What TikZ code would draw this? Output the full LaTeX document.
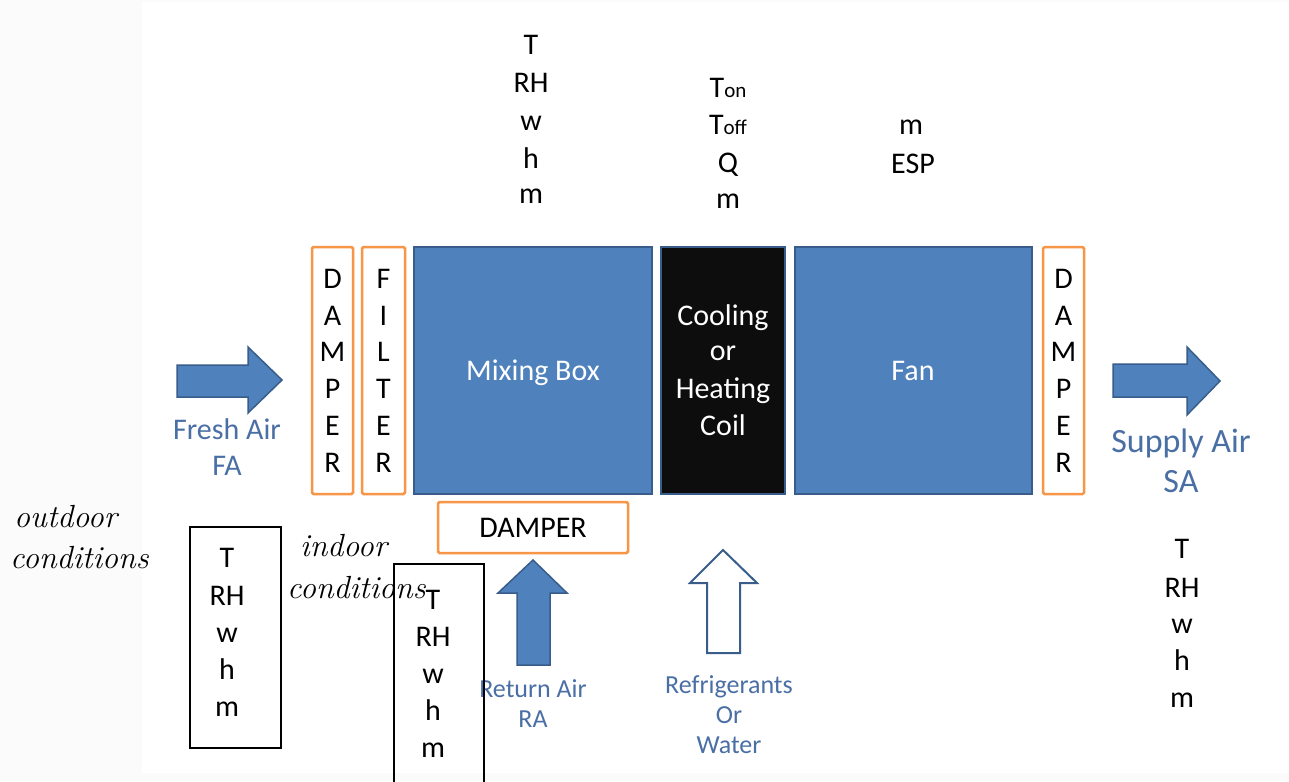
\documentclass[tikz,border=0pt]{standalone}
\usepackage{fontspec}
\setmainfont{Carlito}
\newfontfamily\handfont{Latin Modern Roman}
\definecolor{boxblue}{HTML}{4F81BD}
\definecolor{edgeblue}{HTML}{385D8A}
\definecolor{dorange}{HTML}{F79646}
\definecolor{lblue}{HTML}{4A6FA5}
\definecolor{coilblack}{HTML}{0D0D0D}
\definecolor{pagegray}{HTML}{FBFBFB}
\begin{document}
\begin{tikzpicture}[x=1pt,y=-1pt,
  font=\fontsize{30}{36}\selectfont,
  orangebox/.style={draw=dorange, line width=2.5pt, rounded corners=1.5pt},
  bluebox/.style={fill=boxblue, draw=edgeblue, line width=2pt},
  coilbox/.style={fill=coilblack, draw=edgeblue, line width=2.5pt},
  blackbox/.style={draw=black, line width=2pt},
  txt/.style={inner sep=0pt, anchor=base},
  lbl/.style={inner sep=0pt, anchor=base, text=lblue},
  smalllbl/.style={lbl, font=\fontsize{26}{30}\selectfont},
  biglbl/.style={lbl, font=\fontsize{34}{40}\selectfont},
  wtxt/.style={inner sep=0pt, anchor=base, text=white},
  hand/.style={inner sep=0pt, anchor=base west, font=\handfont\itshape\fontsize{32}{36}\selectfont},
  fillarrow/.style={fill=boxblue, draw=edgeblue, line width=1.5pt, line join=miter},
  openarrow/.style={fill=white, draw=edgeblue, line width=2pt, line join=miter}
]
% background
\fill[pagegray] (0,0) rectangle (1289,781);
\fill[white] (142,2) rectangle (1289,773);
\useasboundingbox (0,0) rectangle (1289,781);

% fresh air arrow
\draw[fillarrow] (177,365) -- (248,365) -- (248,347) -- (282,380) -- (248,413) -- (248,397) -- (177,397) -- cycle;
\node[lbl] (fa1) at (227,439) {Fresh Air};
\node[lbl] (fa2) at (227,475) {FA};

% damper left
\draw[orangebox] (312,247) rectangle (353,494);
\foreach \l/\y [count=\i] in {D/288,A/325,M/361,P/398,E/435,R/472}
  \node[txt] (dl\i) at (332.5,\y) {\l};
% filter
\draw[orangebox] (362,247) rectangle (405,494);
\foreach \l/\y [count=\i] in {F/288,I/325,L/361,T/398,E/435,R/472}
  \node[txt] (fl\i) at (383.5,\y) {\l};

% mixing box
\draw[bluebox] (414,247) rectangle (652,494);
\node[wtxt] (mix) at (533,380) {Mixing Box};

% coil
\draw[coilbox] (661,247) rectangle (785,494);
\foreach \l/\y [count=\i] in {Cooling/325,or/360,Heating/398,Coil/435}
  \node[wtxt] (coil\i) at (723,\y) {\l};

% fan
\draw[bluebox] (795,247) rectangle (1032,494);
\node[wtxt] (fan) at (913,380) {Fan};

% damper right
\draw[orangebox] (1043,247) rectangle (1084,494);
\foreach \l/\y [count=\i] in {D/288,A/325,M/361,P/398,E/435,R/472}
  \node[txt] (dr\i) at (1063.5,\y) {\l};

% supply air arrow
\draw[fillarrow] (1113,364) -- (1187,364) -- (1187,347) -- (1220,381) -- (1187,415) -- (1187,397) -- (1113,397) -- cycle;
\node[biglbl] (sa1) at (1181,452) {Supply Air};
\node[biglbl] (sa2) at (1181,492) {SA};

% bottom damper
\draw[orangebox] (438,502) rectangle (628,553);
\node[txt] (dbot) at (533,537) {DAMPER};

% return air arrow
\draw[fillarrow] (517,665) -- (517,593) -- (498,593) -- (533,560) -- (567,593) -- (550,593) -- (550,665) -- cycle;
\node[smalllbl] (ra1) at (533,697) {Return Air};
\node[smalllbl] (ra2) at (533,727) {RA};

% refrigerant arrow
\draw[openarrow] (707,653) -- (707,583) -- (690,583) -- (723,550) -- (757,583) -- (740,583) -- (740,653) -- cycle;
\node[smalllbl] (rw1) at (729,693) {Refrigerants};
\node[smalllbl] (rw2) at (729,723) {Or};
\node[smalllbl] (rw3) at (729,753) {Water};

% top labels mixing
\foreach \l/\y [count=\i] in {T/55,RH/93,w/130,h/168,m/203}
  \node[txt] (tm\i) at (531,\y) {\l};
% coil labels
\node[txt] (tc1) at (728,98) {T{\fontsize{21}{24}\selectfont on}};
\node[txt] (tc2) at (728,135) {T{\fontsize{21}{24}\selectfont off}};
\node[txt] (tc3) at (728,172) {Q};
\node[txt] (tc4) at (728,208) {m};
% fan labels
\node[txt] (tf1) at (911,134) {m};
\node[txt] (tf2) at (913,173) {ESP};

% supply labels
\foreach \l/\y [count=\i] in {T/558,RH/597,w/633,h/670,m/707}
  \node[txt] (ts\i) at (1182,\y) {\l};

% outdoor box
\draw[blackbox] (190,527) rectangle (281,748);
\foreach \l/\y [count=\i] in {T/567,RH/605,w/642,h/679,m/716}
  \node[txt] (to\i) at (227,\y) {\l};
% indoor box
\draw[blackbox] (394,564) rectangle (484,790);
\foreach \l/\y [count=\i] in {T/609,RH/646,w/683,h/720,m/757}
  \node[txt] (ti\i) at (433,\y) {\l};

% handwritten notes
\node[hand] (out1) at (14,527) {outdoor};
\node[hand] (out2) at (10,568) {conditions};
\node[hand] (in1) at (300,556) {indoor};
\node[hand] (in2) at (287,598) {conditions};
\end{tikzpicture}
\end{document}
